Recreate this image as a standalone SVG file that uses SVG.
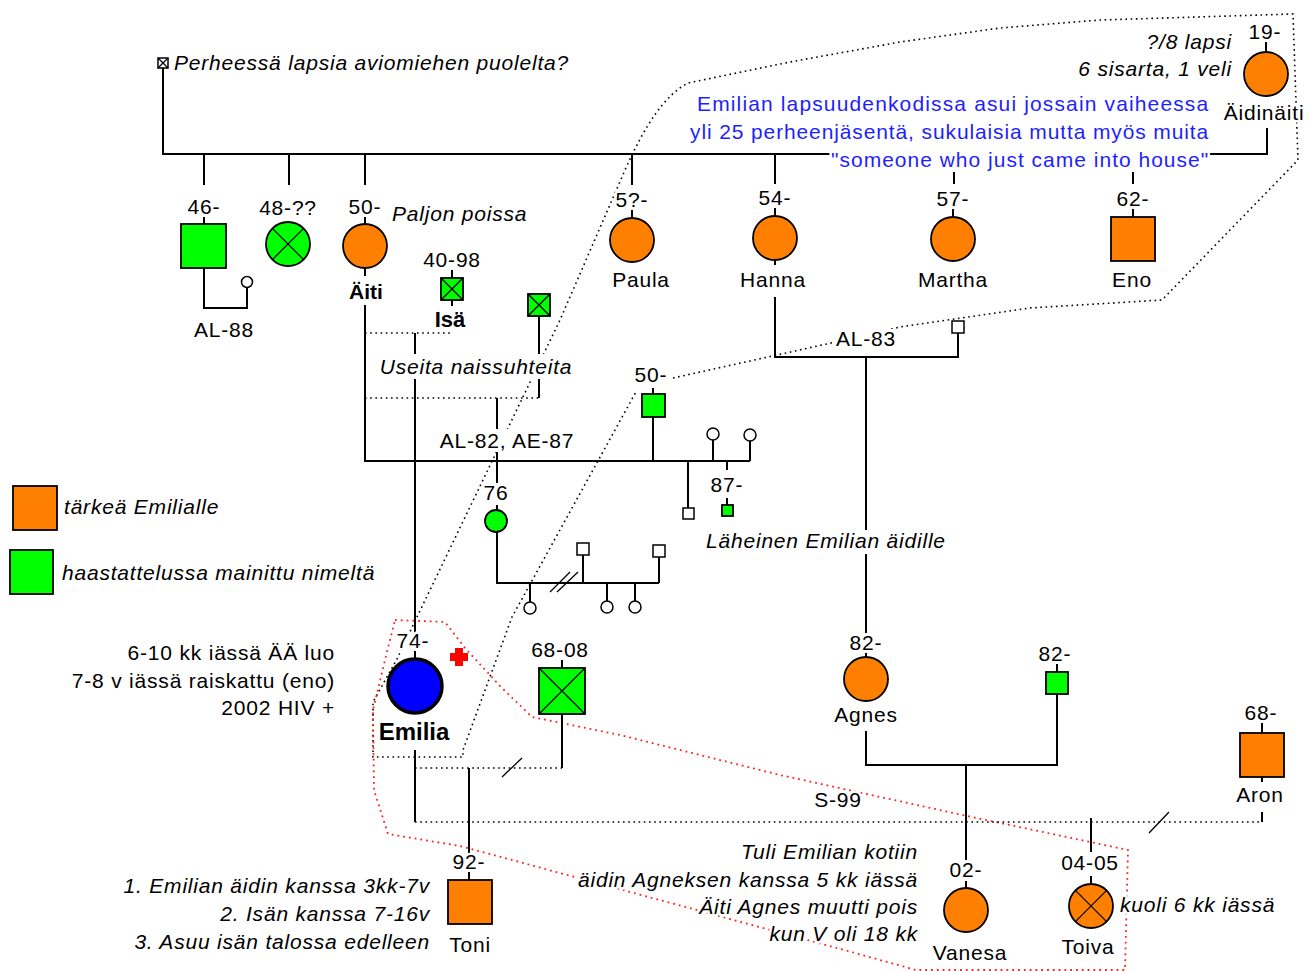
<svg xmlns="http://www.w3.org/2000/svg" width="1313" height="971" viewBox="0 0 1313 971">
<style>
text{font-family:"Liberation Sans",Arial,sans-serif;font-size:21px;letter-spacing:0.8px;fill:#000;paint-order:stroke;stroke:#fff;stroke-width:5px;stroke-linejoin:round}
.it{font-style:italic}
.b{font-weight:bold;letter-spacing:0}
.m{text-anchor:middle}
.e{text-anchor:end}
.blue{fill:#1e1eff}
.bg{fill:#fff;stroke:none}
.ln{stroke:#000;stroke-width:2;fill:none}
.dot{stroke:#000;stroke-width:1.6;fill:none;stroke-dasharray:1.6 3.6}
.rdot{stroke:#ff2020;stroke-width:1.8;fill:none;stroke-dasharray:1.8 4}
.or{fill:#ff8000;stroke:#000;stroke-width:1.8}
.gr{fill:#00ff00;stroke:#000;stroke-width:1.8}
.wh{fill:#fff;stroke:#000;stroke-width:1.5}
.x{stroke:#000;stroke-width:1.3;fill:none}
</style>
<rect width="1313" height="971" fill="#fff"/>

<g id="regions">
<path class="dot" d="M673,378 L777,355 L840,341 L900,327 L1030,308 L1162,300 L1298,160 L1293,14 L1100,20 L1000,28 L900,42 L790,62 L688,83 C665,95 645,125 625,170 L560,320 L417,617 L397,659 L373,702 L373,757 L463,757 L463,750 L512,617 L637,390"/>
<path class="rdot" d="M395,620 L445,622 L465,648 L500,686 L532,717 L620,735 L780,775 L967,816 L1128,850 L1125,970 L916,970 L837,948 L560,873 L460,846 L388,834 L374,790 L373,710 L386,656 Z"/>
</g>

<g id="connectors">
<path class="ln" d="M163,68 V154 H830"/>
<path class="ln" d="M1210,154 H1267 V128"/>
<path class="ln" d="M204,154 V185 M289,154 V185 M365,154 V185 M632,154 V185 M775,154 V184 M954,172 V184 M1133,172 V184"/>
<path class="ln" d="M204,217 V224 M365,217 V224 M632,210 V218 M775,208 V216 M953,209 V217 M1133,209 V217 M1266,42 V52 M452,270 V278 M452,300 V306 M365,268 V276 M775,260 V265"/>
<path class="ln" d="M204,268 V308 H247 V288"/>
<path class="ln" d="M365,305 V461 H750"/>
<path class="dot" d="M365,333 H453 M365,398 H539"/>
<path class="ln" d="M415,333 V633 M415,651 V659 M539,317 V398 M497,398 V510"/>
<path class="ln" d="M653,385 V394 M653,417 V461 M688,461 V508 M713,440 V461 M750,441 V461 M727,461 V470 M727,498 V505"/>
<path class="ln" d="M497,532 V583 H659 M530,583 V602 M583,555 V583 M607,583 V601 M635,583 V601 M659,557 V583"/>
<path class="x" d="M550,592 L570,572 M557,592 L578,572"/>
<path class="ln" d="M775,297 V357 H958 V333 M866,357 V633 M866,653 V657"/>
<path class="ln" d="M866,731 V765 H1057 V694 M966,765 V860 M966,881 V888 M1057,664 V672"/>
<path class="ln" d="M415,750 V822 M562,660 V668 M562,714 V768 M469,768 V853 M469,872 V880 M1262,812 V822 M1262,723 V733 M1262,777 V782 M1091,818 V852 M1091,876 V884"/>
<path class="dot" d="M415,822 H1262 M415,768 H562"/>
<path class="x" d="M502,777 L522,758 M1149,833 L1169,812"/>
</g>

<g id="label-backgrounds">
<rect class="bg" x="378" y="354" width="196" height="25"/>
<rect class="bg" x="439" y="429" width="136" height="23"/>
<rect class="bg" x="834" y="329" width="64" height="23"/>
<rect class="bg" x="634" y="366" width="36" height="22"/>
<rect class="bg" x="484" y="483" width="24" height="22"/>
<rect class="bg" x="704" y="530" width="248" height="24"/>
</g>

<g id="legend">
<rect class="or" x="13" y="486" width="44" height="44"/>
<rect class="gr" x="10" y="550" width="43" height="44"/>
<text class="it" x="64" y="514">tärkeä Emilialle</text>
<text class="it" x="62" y="580">haastattelussa mainittu nimeltä</text>
</g>

<g id="n-top"><rect class="wh" x="158" y="58" width="10" height="10"/><path class="x" d="M158,58 L168,68 M168,58 L158,68"/>
<text class="it" x="174" y="70">Perheessä lapsia aviomiehen puolelta?</text></g>

<g id="n-aidinaiti"><circle class="or" cx="1266" cy="74" r="22"/>
<text class="m" x="1265" y="39">19-</text><text class="m" x="1264" y="120">Äidinäiti</text>
<text class="it e" x="1232" y="49">?/8 lapsi</text><text class="it e" x="1232" y="76">6 sisarta, 1 veli</text></g>

<g id="note-blue">
<text class="blue e" x="1209" y="111" textLength="512" lengthAdjust="spacing">Emilian lapsuudenkodissa asui jossain vaiheessa</text>
<text class="blue e" x="1209" y="139" textLength="519" lengthAdjust="spacing">yli 25 perheenjäsentä, sukulaisia mutta myös muita</text>
<text class="blue e" x="1209" y="167" textLength="378" lengthAdjust="spacing">"someone who just came into house"</text></g>

<g id="n-46"><rect class="gr" x="181" y="224" width="45" height="44"/><text class="m" x="204" y="214">46-</text>
<circle class="wh" cx="247" cy="282" r="5.5"/><text class="m" x="224" y="337">AL-88</text></g>

<g id="n-48"><circle class="gr" cx="288" cy="244" r="22"/><path class="x" d="M272.4,228.4 L303.6,259.6 M303.6,228.4 L272.4,259.6"/><text class="m" x="288" y="215">48-??</text></g>

<g id="n-aiti"><circle class="or" cx="365" cy="246" r="22"/><text class="m" x="365" y="214">50-</text>
<text class="it" x="392" y="221">Paljon poissa</text><text class="b m" x="366" y="299">Äiti</text></g>

<g id="n-isa"><rect class="gr" x="441" y="278" width="22" height="22"/><path class="x" d="M441,278 L463,300 M463,278 L441,300"/>
<text class="m" x="452" y="267">40-98</text><text class="b m" x="450" y="327" style="font-size:22px">Isä</text></g>

<g id="n-x2"><rect class="gr" x="528" y="294" width="22" height="22"/><path class="x" d="M528,294 L550,316 M550,294 L528,316"/></g>

<text class="it m" x="476" y="374">Useita naissuhteita</text>
<text class="m" x="507" y="448">AL-82, AE-87</text>

<g id="n-50g"><rect class="gr" x="642" y="394" width="23" height="23"/><text class="m" x="651" y="382">50-</text></g>
<g id="n-small"><circle class="wh" cx="713" cy="434" r="6"/><circle class="wh" cx="750" cy="435" r="6"/><rect class="wh" x="683" y="508" width="11" height="11"/></g>
<g id="n-87"><rect class="gr" x="722" y="505" width="11" height="11"/><text class="m" x="727" y="492">87-</text>
<text class="it" x="706" y="548">Läheinen Emilian äidille</text></g>

<g id="n-76"><circle class="gr" cx="496" cy="521" r="11"/><text class="m" x="496" y="500">76</text></g>
<g id="n-76kids"><circle class="wh" cx="530" cy="608" r="6"/><rect class="wh" x="577" y="543" width="12" height="12"/><circle class="wh" cx="607" cy="607" r="6"/><circle class="wh" cx="635" cy="607" r="6"/><rect class="wh" x="653" y="545" width="12" height="12"/></g>

<g id="n-paula"><circle class="or" cx="632" cy="240" r="22"/><text class="m" x="632" y="207">5?-</text><text class="m" x="641" y="287">Paula</text></g>
<g id="n-hanna"><circle class="or" cx="775" cy="238" r="22"/><text class="m" x="775" y="205">54-</text><text class="m" x="773" y="287">Hanna</text></g>
<g id="n-martha"><circle class="or" cx="953" cy="239" r="22"/><text class="m" x="953" y="206">57-</text><text class="m" x="953" y="287">Martha</text></g>
<g id="n-eno"><rect class="or" x="1111" y="217" width="44" height="44"/><text class="m" x="1133" y="206">62-</text><text class="m" x="1132" y="287">Eno</text></g>
<g id="n-al83"><rect class="wh" x="952" y="321" width="12" height="12"/><text class="m" x="866" y="346">AL-83</text></g>

<g id="n-emilia"><circle cx="415" cy="686" r="27" fill="#0000ff" stroke="#000" stroke-width="3.5"/>
<text class="m" x="413" y="648">74-</text><text class="b m" x="414" y="740" style="font-size:24px">Emilia</text>
<path d="M455,648 h8 v5 h5 v8 h-5 v5 h-8 v-5 h-5 v-8 h5 z" fill="#ff0000"/>
<text class="e" x="335" y="660">6-10 kk iässä ÄÄ luo</text>
<text class="e" x="335" y="688">7-8 v iässä raiskattu (eno)</text>
<text class="e" x="335" y="715">2002 HIV +</text></g>

<g id="n-6808"><rect class="gr" x="539" y="668" width="46" height="46"/><path class="x" d="M539,668 L585,714 M585,668 L539,714"/><text class="m" x="560" y="657">68-08</text></g>

<g id="n-toni"><rect class="or" x="448" y="880" width="44" height="44"/><text class="m" x="469" y="869">92-</text><text class="m" x="470" y="952">Toni</text>
<text class="it e" x="430" y="893">1. Emilian äidin kanssa 3kk-7v</text>
<text class="it e" x="430" y="921">2. Isän kanssa 7-16v</text>
<text class="it e" x="430" y="949">3. Asuu isän talossa edelleen</text></g>

<g id="n-agnes"><circle class="or" cx="866" cy="679" r="22"/><text class="m" x="866" y="650">82-</text><text class="m" x="866" y="722">Agnes</text></g>
<g id="n-82"><rect class="gr" x="1046" y="672" width="22" height="22"/><text class="m" x="1055" y="661">82-</text></g>
<g id="n-aron"><rect class="or" x="1240" y="733" width="44" height="44"/><text class="m" x="1261" y="720">68-</text><text class="m" x="1260" y="802">Aron</text></g>
<text class="m" x="838" y="807">S-99</text>

<g id="n-vanesa"><circle class="or" cx="966" cy="910" r="22"/><text class="m" x="966" y="877">02-</text><text class="m" x="970" y="960">Vanesa</text>
<text class="it e" x="918" y="859">Tuli Emilian kotiin</text>
<text class="it e" x="918" y="887">äidin Agneksen kanssa 5 kk iässä</text>
<text class="it e" x="918" y="914">Äiti Agnes muutti pois</text>
<text class="it e" x="918" y="941">kun V oli 18 kk</text></g>

<g id="n-toiva"><circle class="or" cx="1091" cy="906" r="22"/><path class="x" d="M1075.4,890.4 L1106.6,921.6 M1106.6,890.4 L1075.4,921.6"/>
<text class="m" x="1090" y="870">04-05</text><text class="m" x="1088" y="954">Toiva</text>
<text class="it" x="1120" y="912">kuoli 6 kk iässä</text></g>
</svg>
